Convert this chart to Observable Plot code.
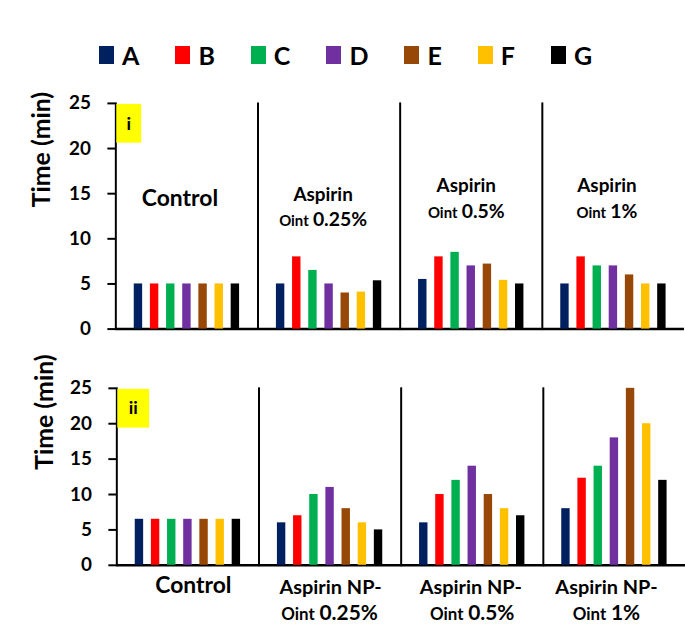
<!DOCTYPE html>
<html>
<head>
<meta charset="utf-8">
<script src="https://cdn.jsdelivr.net/npm/d3@7"></script>
<script src="https://cdn.jsdelivr.net/npm/@observablehq/plot@0.6"></script>
<style>
  html, body { margin: 0; padding: 0; background: #fff; }
  body { width: 685px; height: 626px; overflow: hidden; position: relative; font-family: Lato, "Open Sans", sans-serif; }
  #legend { position: absolute; left: 99px; top: 43px; display: flex; align-items: center; gap: 36px; }
  .item { display: flex; align-items: center; }
  .sw { width: 15px; height: 18px; margin-right: 8px; }
  .lab { font-weight: bold; font-size: 25px; line-height: 24px; }
  #p1 { position: absolute; left: 0; top: 88px; }
  #p2 { position: absolute; left: 0; top: 360px; }
</style>
</head>
<body>
<div id="legend"></div>
<div id="p1"></div>
<div id="p2"></div>
<script>
// ---------- data ----------
const series = ["A", "B", "C", "D", "E", "F", "G"];
const seriesColors = ["#002060", "#FF0000", "#00B050", "#7030A0", "#974706", "#FFC000", "#000000"];
const yTicks = [0, 5, 10, 15, 20, 25];
const yLabel = "Time (min)";

const panel1Groups = ["Control", "Aspirin Oint 0.25%", "Aspirin Oint 0.5%", "Aspirin Oint 1%"];
const panel1Control = [5, 5, 5, 5, 5, 5, 5];
const panel1Oint025 = [5, 8, 6.5, 5, 4, 4.1, 5.35];
const panel1Oint05 = [5.5, 8, 8.5, 7, 7.2, 5.4, 5];
const panel1Oint1 = [5, 8, 7, 7, 6, 5, 5];

const panel2Groups = ["Control", "Aspirin NP-Oint 0.25%", "Aspirin NP-Oint 0.5%", "Aspirin NP-Oint 1%"];
const panel2Control = [6.5, 6.5, 6.5, 6.5, 6.5, 6.5, 6.5];
const panel2NP025 = [6, 7, 10, 11, 8, 6, 5];
const panel2NP05 = [6, 10, 12, 14, 10, 8, 7];
const panel2NP1 = [8, 12.3, 14, 18, 25, 20, 12];

const panelTags = ["i", "ii"];
const panel1Titles = ["Control", "Aspirin", "Aspirin", "Aspirin"];
const panel2Titles = ["Control", "Aspirin NP-", "Aspirin NP-", "Aspirin NP-"];
const ointWord = "Oint";
const doses = ["", "0.25%", "0.5%", "1%"];

// ---------- legend ----------
const legend = document.getElementById("legend");
series.forEach((s, i) => {
  const it = document.createElement("div");
  it.className = "item";
  it.innerHTML = `<div class="sw" style="background:${seriesColors[i]}"></div><div class="lab">${s}</div>`;
  legend.appendChild(it);
});

// ---------- helpers ----------
const ctx = document.createElement("canvas").getContext("2d");
function textWidth(t, size) {
  ctx.font = `bold ${size}px Lato`;
  return ctx.measureText(t).width;
}
function tidy(groups, values) {
  return groups.flatMap((g, gi) => series.map((s, si) => ({group: g, series: s, value: values[gi][si]})));
}

function panel({groups, values, tag, titles, width, height, marginLeft, marginTop, marginBottom, layout, yLab, tagBox}) {
  const rows = tidy(groups, values);
  const marks = [
    Plot.frame({anchor: "left", strokeWidth: 2}),
    Plot.ruleY([0], {strokeWidth: 2.5}),
    Plot.barY(rows, {fx: "group", x: "series", y: "value", fill: "series"}),
    Plot.axisY({ticks: yTicks, tickSize: 8, tickPadding: layout.tickPadding, strokeWidth: 2, fontSize: 19, fontWeight: "bold", label: null}),
    Plot.text([yLabel], {fx: () => groups[0], frameAnchor: "left", text: d => d, rotate: -90, dx: yLab.dx, dy: yLab.dy, fontSize: 25, fontWeight: "bold"})
  ];
  groups.forEach((g, gi) => {
    const L = layout.labels[gi];
    const pos = L.y != null ? {y: () => L.y} : {frameAnchor: "bottom"};
    marks.push(Plot.text([titles[gi]], {fx: () => g, ...pos, text: d => d, dx: L.dx, dy: L.dy || 0,
      lineAnchor: "bottom", fontSize: L.size, fontWeight: "bold"}));
    if (doses[gi]) {
      const wO = textWidth(ointWord, L.smallSize), wP = textWidth(doses[gi], L.bigSize);
      const gap = 0.28 * L.smallSize;
      const start = L.dx2 - (wO + gap + wP) / 2;
      const pos2 = L.y2 != null ? {y: () => L.y2} : {frameAnchor: "bottom"};
      marks.push(Plot.text([ointWord], {fx: () => g, ...pos2, text: d => d, dx: start + wO, dy: L.dy2 || 0,
        textAnchor: "end", lineAnchor: "bottom", fontSize: L.smallSize, fontWeight: "bold"}));
      marks.push(Plot.text([doses[gi]], {fx: () => g, ...pos2, text: d => d, dx: start + wO + gap, dy: L.dy2 || 0,
        textAnchor: "start", lineAnchor: "bottom", fontSize: L.bigSize, fontWeight: "bold"}));
    }
  });
  const svg = Plot.plot({
    width, height, marginLeft, marginRight: 0, marginTop, marginBottom,
    style: {fontFamily: "Lato, sans-serif", fontWeight: "bold", fontSize: "19px", color: "#000", background: "transparent", overflow: "visible"},
    fx: {domain: groups, padding: 0, axis: null},
    x: {domain: series, paddingInner: 0.48, paddingOuter: 1.14, round: false, axis: null},
    y: {domain: [0, 25], axis: null},
    color: {domain: series, range: seriesColors},
    marks
  });
  const y = svg.scale("y");
  const top = y.apply(25);
  const sel = d3.select(svg);
  sel.append("rect").attr("x", marginLeft + tagBox.dx).attr("y", top + 1)
    .attr("width", tagBox.w).attr("height", tagBox.h).attr("fill", "#FFFF00");
  sel.append("text").attr("x", marginLeft + tagBox.dx + tagBox.w / 2).attr("y", top + 1 + tagBox.h / 2)
    .attr("text-anchor", "middle").attr("dy", "0.35em").attr("font-size", 18).attr("font-weight", "bold")
    .attr("fill", "#000").text(tag);
  return svg;
}

document.getElementById("p1").appendChild(panel({
  groups: panel1Groups,
  values: [panel1Control, panel1Oint025, panel1Oint05, panel1Oint1],
  tag: panelTags[0], titles: panel1Titles,
  width: 689, height: 252, marginLeft: 114, marginTop: 15, marginBottom: 10,
  yLab: {dx: -74, dy: -9},
  tagBox: {dx: 3, w: 25, h: 39},
  layout: {
    tickPadding: 17,
    labels: [
      {y: 13.65, dx: -7, size: 23},
      {y: 14.2, dx: -6, size: 19, y2: 11.4, dx2: -6, smallSize: 15, bigSize: 19.5},
      {y: 15.2, dx: -5, size: 19, y2: 12.3, dx2: -5, smallSize: 15, bigSize: 19.5},
      {y: 15.2, dx: -6.5, size: 19, y2: 12.3, dx2: -6.5, smallSize: 15, bigSize: 19.5}
    ]
  }
}));

document.getElementById("p2").appendChild(panel({
  groups: panel2Groups,
  values: [panel2Control, panel2NP025, panel2NP05, panel2NP1],
  tag: panelTags[1], titles: panel2Titles,
  width: 689, height: 266, marginLeft: 117, marginTop: 28, marginBottom: 60,
  yLab: {dx: -72, dy: -7},
  tagBox: {dx: 1, w: 32, h: 39},
  layout: {
    tickPadding: 17,
    labels: [
      {dy: 28, dx: 5.5, size: 23},
      {dy: 29, dx: 0.5, size: 20, dy2: 55, dx2: -0.5, smallSize: 17, bigSize: 21},
      {dy: 29, dx: -1.5, size: 20, dy2: 55, dx2: 0, smallSize: 17, bigSize: 21},
      {dy: 29, dx: -8, size: 20, dy2: 55, dx2: -8, smallSize: 17, bigSize: 21}
    ]
  }
}));
</script>
</body>
</html>
